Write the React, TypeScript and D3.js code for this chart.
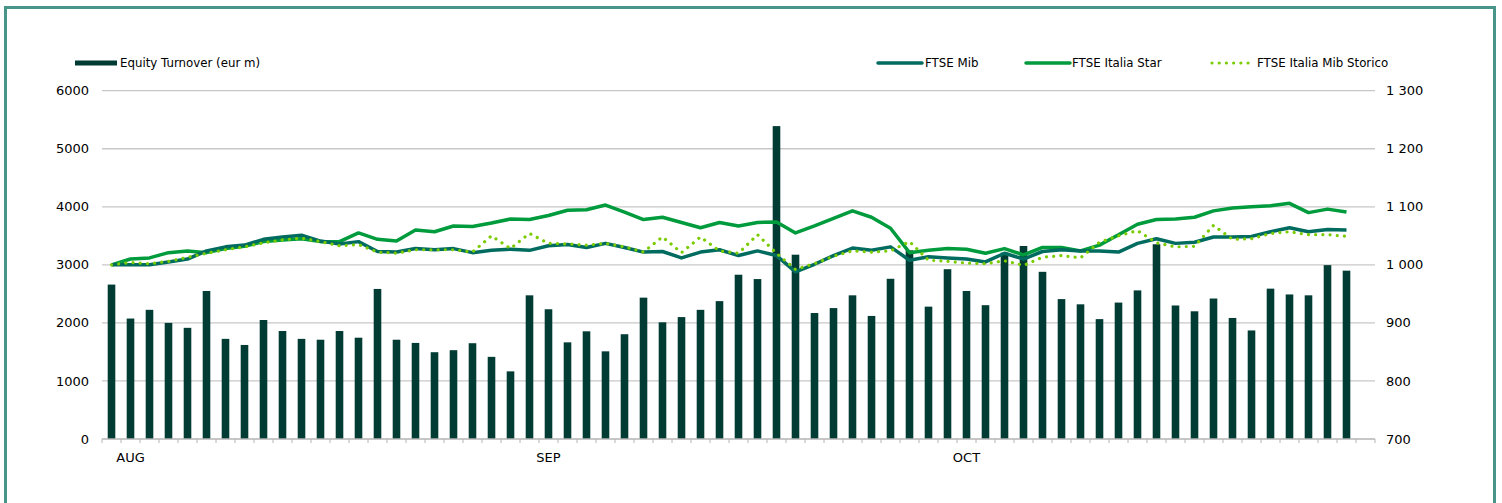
import React from 'react';
import * as d3 from 'd3';

// daily equity turnover (eur m), one value per trading day
const turnover = [
  2660, 2075, 2225, 2000, 1915, 2550, 1725, 1620, 2050, 1860, 1725, 1710, 1860, 1745, 2585, 1710,
  1655, 1495, 1530, 1650, 1415, 1165, 2475, 2235, 1665, 1855, 1510, 1805, 2435, 2010, 2100, 2225,
  2375, 2830, 2755, 5390, 3175, 2170, 2255, 2475, 2120, 2760, 3250, 2280, 2925, 2550, 2305, 3210,
  3325, 2880, 2410, 2320, 2065, 2350, 2560, 3355, 2300, 2200, 2420, 2085, 1870, 2590, 2490, 2475,
  2995, 2900,
];

// indices rebased to 1000
const ftseMib = [
  1000, 1000, 1000, 1005, 1010, 1024, 1031, 1034, 1044, 1048, 1051, 1041, 1036, 1040, 1023, 1022,
  1028, 1026, 1028, 1021, 1025, 1027, 1025, 1033, 1035, 1030, 1037, 1030, 1022, 1023, 1012, 1022,
  1026, 1016, 1024, 1016, 988, 1001, 1016, 1029, 1025, 1031, 1008, 1014, 1012, 1010, 1005, 1020,
  1010, 1023, 1026, 1024, 1024, 1022, 1037, 1045, 1037, 1039, 1048, 1048, 1049, 1057, 1064, 1057,
  1061, 1060,
];

const ftseStar = [
  1000, 1010, 1012, 1021, 1024, 1021, 1028, 1032, 1040, 1043, 1045, 1040, 1040, 1055, 1044, 1041,
  1060, 1057, 1067, 1066, 1072, 1079, 1078, 1085, 1094, 1095, 1103, 1091, 1078, 1082, 1073, 1064,
  1073, 1067, 1073, 1074, 1055, 1067, 1080, 1093, 1082, 1063, 1021, 1025, 1028, 1027, 1020, 1028,
  1017, 1030, 1030, 1024, 1034, 1052, 1070, 1078, 1079, 1082, 1093, 1098, 1100, 1102, 1106, 1090,
  1096, 1091,
];

const ftseStorico = [
  1000, 1004, 1002, 1006, 1013, 1020, 1026, 1031, 1038, 1043, 1046, 1040, 1033, 1035, 1022, 1020,
  1026, 1026, 1026, 1022, 1050, 1028, 1054, 1037, 1036, 1034, 1037, 1031, 1022, 1048, 1021, 1048,
  1024, 1020, 1052, 1020, 992, 1002, 1015, 1024, 1022, 1024, 1040, 1008, 1006, 1003, 1002, 1007,
  999, 1013, 1016, 1012, 1039, 1050, 1059, 1038, 1031, 1032, 1068, 1044, 1045, 1054, 1057, 1052,
  1052, 1049,
];

const monthLabels = ['AUG', 'SEP', 'OCT'];
const monthSlots = [1, 23, 45];
const leftTicks = [0, 1000, 2000, 3000, 4000, 5000, 6000];
const rightTicks = [700, 800, 900, 1000, 1100, 1200, 1300];
const slotCount = 67; // axis keeps one empty slot after the last day

const W = 1502;
const H = 503;
const FONT = '"DejaVu Sans", Verdana, sans-serif';
const C_BAR = '#003b34';
const C_MIB = '#006b5f';
const C_STAR = '#009b3c';
const C_STORICO = '#7acc00';

export default function App() {
  const plot = { left: 102, right: 1375, top: 90.7, bottom: 439 };

  const x = d3
    .scaleBand<number>()
    .domain(d3.range(slotCount))
    .range([plot.left, plot.right])
    .paddingInner(0.6)
    .paddingOuter(0.3);
  const step = x.step();
  const cx = (i: number) => (x(i) as number) + x.bandwidth() / 2;

  const yL = d3.scaleLinear().domain([0, 6000]).range([plot.bottom, plot.top]);
  const yR = d3.scaleLinear().domain([700, 1300]).range([plot.bottom, plot.top]);

  const line = d3
    .line<number>()
    .x((_, i) => cx(i))
    .y(d => yR(d));

  const fmtRight = (v: number) => (v >= 1000 ? `1 ${String(v).slice(1)}` : String(v));
  const legendSize = 11.8;

  return (
    <svg
      width={W}
      height={H}
      style={{ position: 'absolute', left: 0, top: 0, background: '#fff' }}
      fontFamily={FONT}
    >
      <rect x={0} y={0} width={W} height={H} fill="#fff" />
      <rect x={5.5} y={7.5} width={1489} height={540} fill="none" stroke="#48968a" strokeWidth={3} />

      {/* gridlines */}
      {leftTicks.slice(1).map(t => (
        <line key={t} x1={plot.left} x2={plot.right} y1={yL(t)} y2={yL(t)} stroke="#c8c8c8" strokeWidth={1.3} />
      ))}

      {/* bars */}
      {turnover.map((v, i) => (
        <rect key={i} x={x(i)} y={yL(v)} width={x.bandwidth()} height={yL(0) - yL(v)} fill={C_BAR} />
      ))}

      {/* category axis */}
      <line x1={plot.left} x2={plot.right} y1={plot.bottom} y2={plot.bottom} stroke="#b4b4b4" strokeWidth={1.3} />
      {d3.range(slotCount + 1).map(k => (
        <line
          key={k}
          x1={plot.left + k * step}
          x2={plot.left + k * step}
          y1={plot.bottom}
          y2={plot.bottom + 4}
          stroke="#b4b4b4"
          strokeWidth={1}
        />
      ))}
      {monthLabels.map((m, k) => (
        <text key={m} x={cx(monthSlots[k])} y={462} fontSize={13} textAnchor="middle" fill="#000">
          {m}
        </text>
      ))}

      {/* lines */}
      <path d={line(ftseStar) || ''} fill="none" stroke={C_STAR} strokeWidth={3.5} strokeLinejoin="round" />
      <path d={line(ftseMib) || ''} fill="none" stroke={C_MIB} strokeWidth={3.5} strokeLinejoin="round" />
      <path
        d={line(ftseStorico) || ''}
        fill="none"
        stroke={C_STORICO}
        strokeWidth={3.2}
        strokeDasharray="0.01 7.2"
        strokeLinecap="round"
      />

      {/* left axis labels */}
      {leftTicks.map(t => (
        <text key={t} x={89} y={yL(t)} dy="0.35em" fontSize={13} textAnchor="end" fill="#000">
          {t}
        </text>
      ))}
      {/* right axis labels */}
      {rightTicks.map(t => (
        <text key={t} x={1386} y={yR(t)} dy="0.35em" fontSize={13} textAnchor="start" fill="#000">
          {fmtRight(t)}
        </text>
      ))}

      {/* legend */}
      <rect x={75} y={60.5} width={42} height={5} fill={C_BAR} />
      <text x={120} y={63} dy="0.35em" fontSize={legendSize} fill="#000">Equity Turnover (eur m)</text>

      <line x1={878} x2={922} y1={63} y2={63} stroke={C_MIB} strokeWidth={3.5} strokeLinecap="round" />
      <text x={925} y={63} dy="0.35em" fontSize={legendSize} fill="#000">FTSE Mib</text>

      <line x1={1026} x2={1070} y1={63} y2={63} stroke={C_STAR} strokeWidth={3.5} strokeLinecap="round" />
      <text x={1072} y={63} dy="0.35em" fontSize={legendSize} fill="#000">FTSE Italia Star</text>

      <line
        x1={1212}
        x2={1250}
        y1={63}
        y2={63}
        stroke={C_STORICO}
        strokeWidth={3.2}
        strokeDasharray="0.01 7.2"
        strokeLinecap="round"
      />
      <text x={1257} y={63} dy="0.35em" fontSize={legendSize} fill="#000">FTSE Italia Mib Storico</text>
    </svg>
  );
}
